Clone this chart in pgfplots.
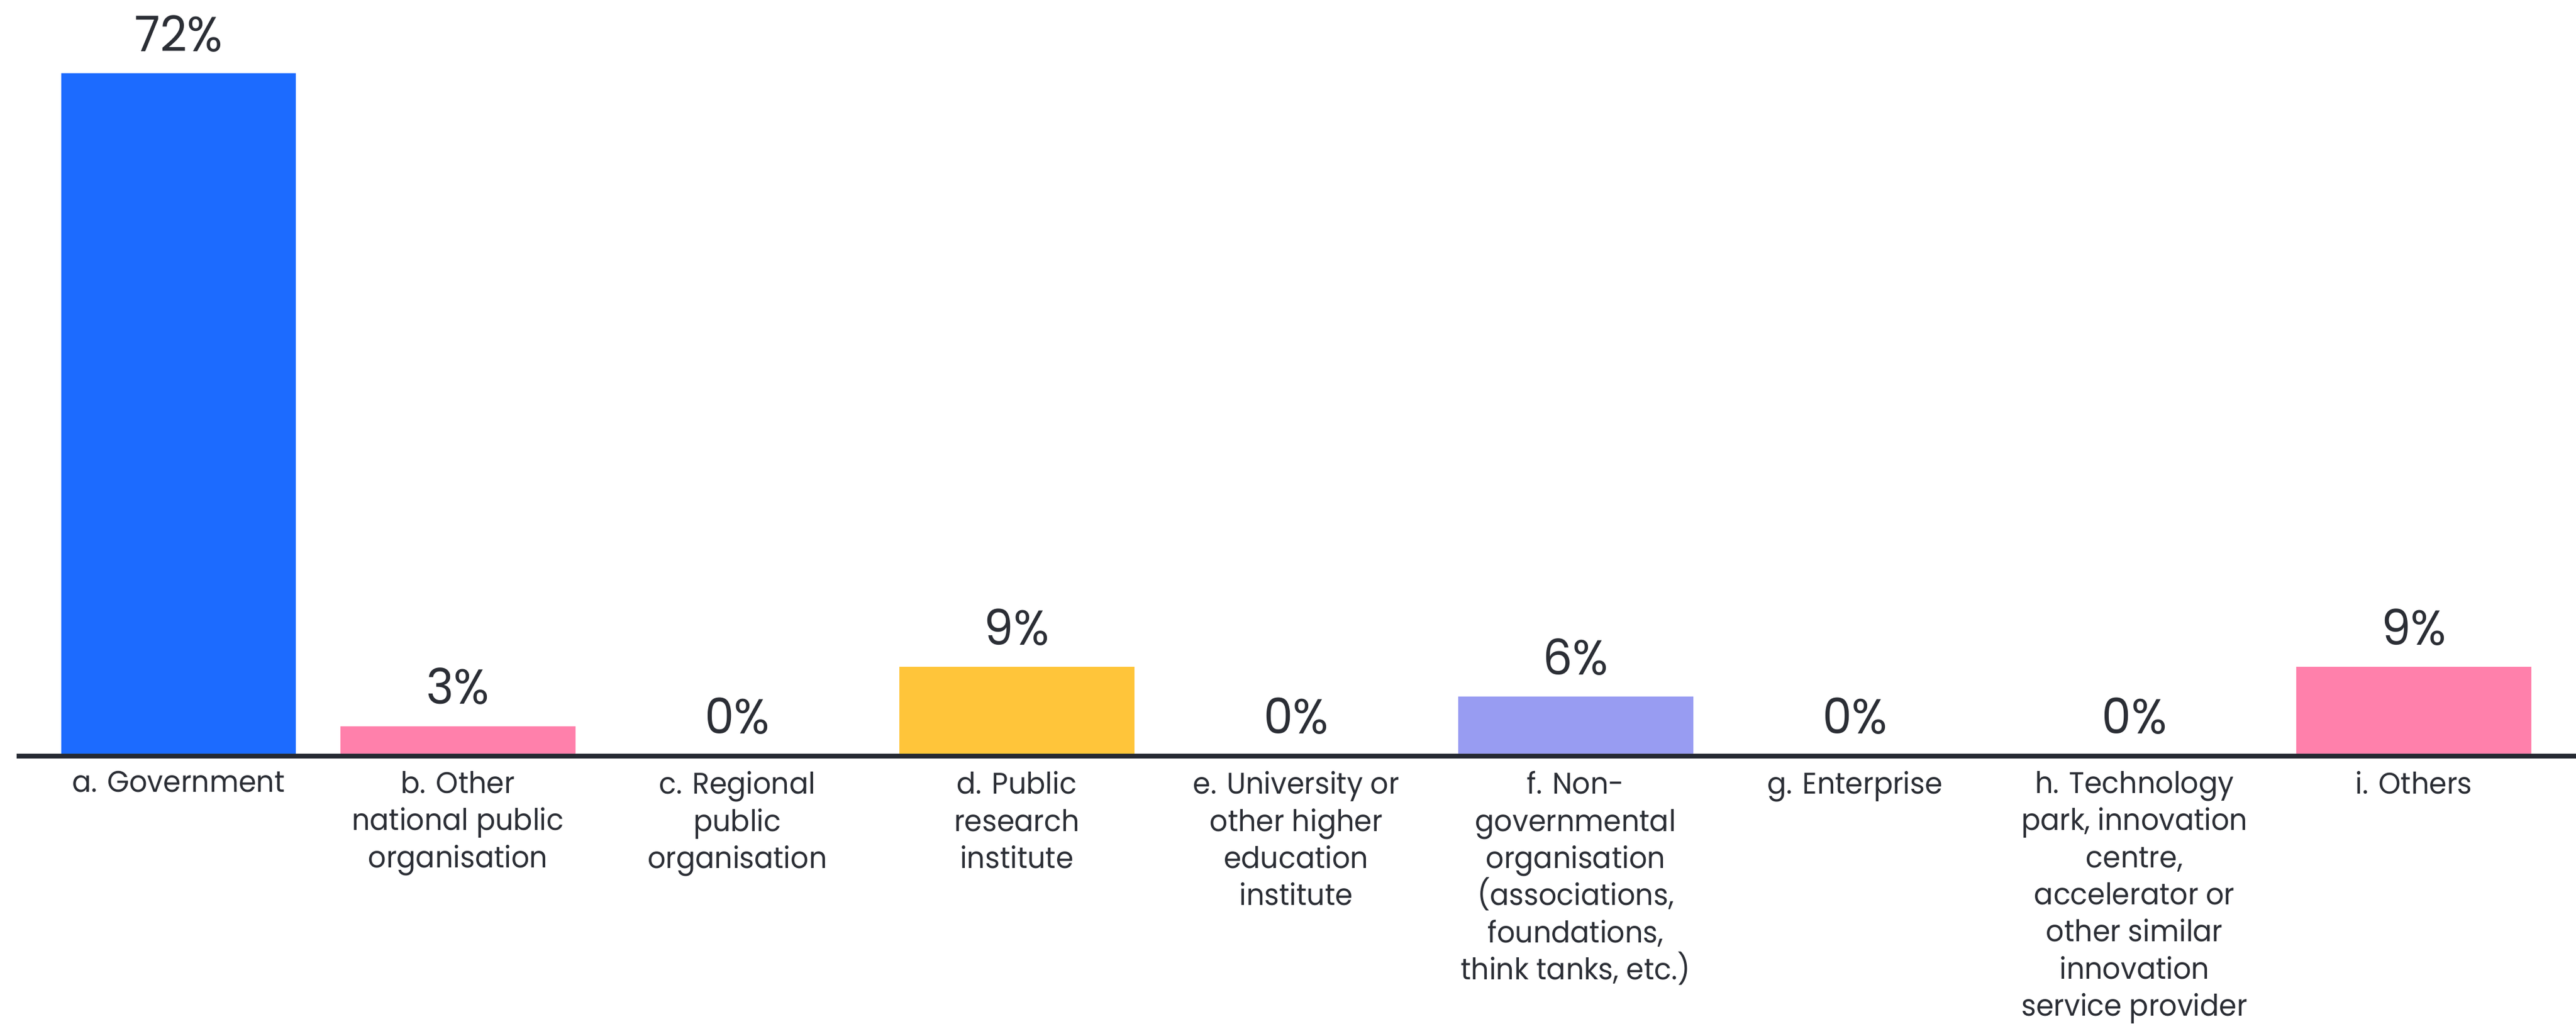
\documentclass[border=0pt]{standalone}
\usepackage{pgfplots}
\pgfplotsset{compat=1.18}
\usepackage{fontspec}
\setmainfont{Poppins}
\newfontfamily\labfont[FakeStretch=0.95]{Poppins}

\definecolor{barblue}{HTML}{1C6BFF}
\definecolor{barpink}{HTML}{FF80AB}
\definecolor{baryellow}{HTML}{FFC53A}
\definecolor{barlav}{HTML}{989CF2}
\definecolor{axisdark}{HTML}{252932}
\definecolor{textdark}{HTML}{2B2E35}

\begin{document}
\begin{tikzpicture}
\useasboundingbox (-5bp,-81.5bp) rectangle (779bp,230bp);
\begin{axis}[
    at={(0,0)}, anchor=south west,
    scale only axis,
    width=779bp, height=225.4bp,
    xmin=-0.58, xmax=8.58,
    ymin=0, ymax=78,
    ybar, bar width=71.5bp,
    axis x line=bottom,
    hide y axis,
    axis on top,
    axis line style={-, line width=1.45bp, draw=axisdark},
    xtick={0,1,2,3,4,5,6,7,8},
    major tick length=0pt,
    xticklabels={
        {a. Government},
        {b. Other\\national public\\organisation},
        {c. Regional\\public\\organisation},
        {d. Public\\research\\institute},
        {e. University or\\other higher\\education\\institute},
        {f. Non-\\governmental\\organisation\\(associations,\\foundations,\\think tanks, etc.)},
        {g. Enterprise},
        {h. Technology\\park, innovation\\centre,\\accelerator or\\other similar\\innovation\\service provider},
        {i. Others}},
    xticklabel style={align=center, anchor=north, text=textdark,
        font=\labfont\fontsize{9.1}{11.33}\selectfont, inner sep=0pt, yshift=-4.5bp},
    nodes near coords={\pgfmathprintnumber[fixed,precision=0,assume math mode=true]{\pgfplotspointmeta}\%},
    every node near coord/.append style={anchor=south, inner sep=0pt, yshift=6.3bp,
        text=textdark, font=\labfont\fontsize{15}{17}\selectfont},
    clip=false,
]
\addplot[fill=barblue, draw=none, bar shift=0pt] coordinates {(0,71.875)};
\addplot[fill=barpink, draw=none, bar shift=0pt] coordinates {(1,3.125)};
\addplot[fill=barpink, draw=none, bar shift=0pt] coordinates {(2,0)};
\addplot[fill=baryellow, draw=none, bar shift=0pt] coordinates {(3,9.375)};
\addplot[fill=barpink, draw=none, bar shift=0pt] coordinates {(4,0)};
\addplot[fill=barlav, draw=none, bar shift=0pt] coordinates {(5,6.25)};
\addplot[fill=barpink, draw=none, bar shift=0pt] coordinates {(6,0)};
\addplot[fill=barpink, draw=none, bar shift=0pt] coordinates {(7,0)};
\addplot[fill=barpink, draw=none, bar shift=0pt] coordinates {(8,9.375)};
\end{axis}
\end{tikzpicture}
\end{document}
